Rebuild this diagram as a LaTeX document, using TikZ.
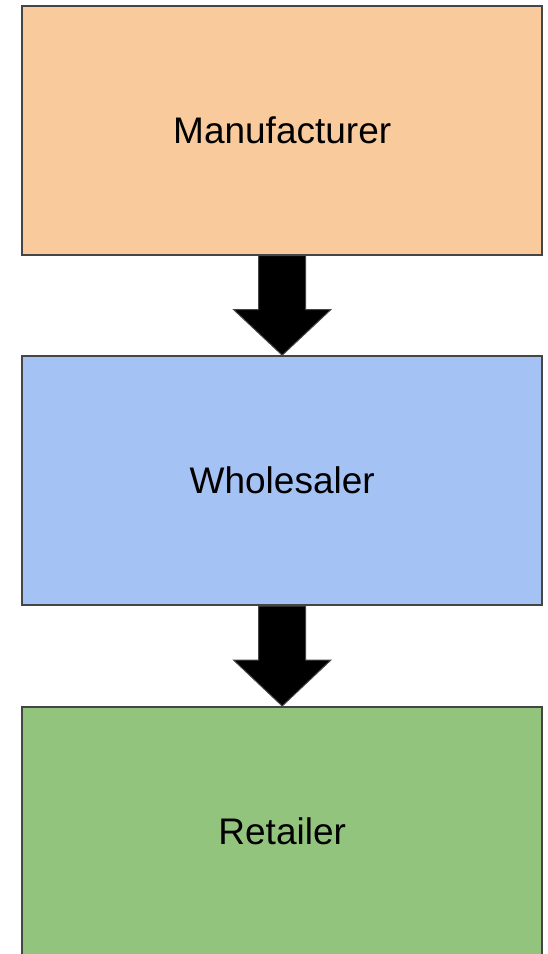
\documentclass[tikz,border=0pt]{standalone}
\usepackage{fontspec}
\setmainfont{Liberation Sans}
\usetikzlibrary{calc}
\definecolor{boxorange}{HTML}{F9CB9C}
\definecolor{boxblue}{HTML}{A4C2F4}
\definecolor{boxgreen}{HTML}{93C47D}
\definecolor{edgegray}{HTML}{454545}
\begin{document}
\begin{tikzpicture}[x=1pt,y=1pt,
  stagebox/.style={draw=edgegray,line width=2pt,minimum width=519.7pt,minimum height=249pt,inner sep=0pt,font=\fontsize{37}{41}\selectfont},
  bigarrow/.style={fill=black,draw=edgegray,line width=1pt,line join=miter}]
\useasboundingbox (0,0) rectangle (547,-954);
\node[stagebox,fill=boxorange] (m) at (282.2,-130.2) {Manufacturer};
\node[stagebox,fill=boxblue] (w) at (282.2,-480.7) {Wholesaler};
\node[stagebox,fill=boxgreen] (r) at (282.2,-831.5) {Retailer};
\foreach \a/\b in {m/w,w/r}{
  \draw[bigarrow] ($(\a.south)+(-23.5,0)$) -- ($(\a.south)+(23.5,0)$) -- ($(\a.south)+(23.5,-54)$)
    -- ($(\a.south)+(48.5,-54)$) -- (\b.north) -- ($(\a.south)+(-48.5,-54)$) -- ($(\a.south)+(-23.5,-54)$) -- cycle;
}
\end{tikzpicture}
\end{document}
